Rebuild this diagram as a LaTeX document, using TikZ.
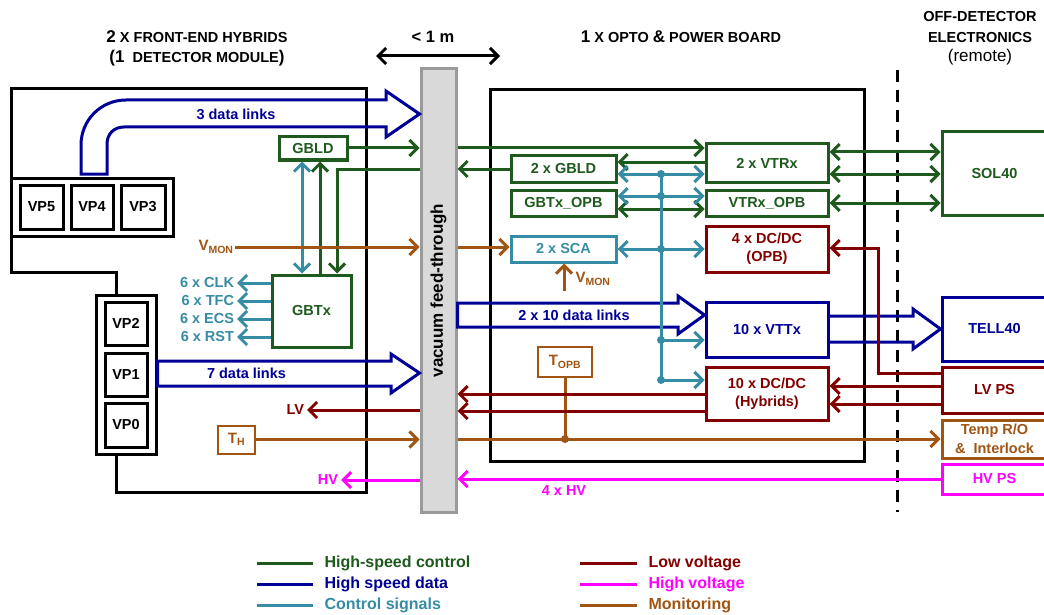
\documentclass[tikz,border=0pt]{standalone}
\usepackage{fontspec}
\setmainfont{Liberation Sans}
\usetikzlibrary{arrows.meta,calc}
\definecolor{cgreen}{HTML}{1E5A1E}
\definecolor{cblue}{HTML}{000096}
\definecolor{ccyan}{HTML}{378CA5}
\definecolor{cred}{HTML}{820000}
\definecolor{cmag}{HTML}{FF00FF}
\definecolor{cbrown}{HTML}{A05514}
\definecolor{ftfill}{HTML}{D9D9D9}
\definecolor{ftline}{HTML}{9A9A9A}
\newcommand{\myfs}[2][18]{\fontsize{#2}{#1}\selectfont}
\newcommand{\tempfs}{\fontsize{14.5}{19}\selectfont}
\begin{document}
\begin{tikzpicture}[x=1pt,y=-1pt,
  line width=3pt,
  >={Straight Barb[length=8pt,width=16pt]},
  box/.style={draw, rectangle, inner sep=0pt, align=center, font=\bfseries\myfs{14.5}},
  lbl/.style={inner sep=1.5pt, font=\bfseries\myfs{14.5}},
  hdr/.style={inner sep=0pt, font=\bfseries\myfs{14.5}},
  leg/.style={inner sep=0pt, anchor=west, font=\bfseries\myfs{16}},
  lhs/.style={draw=cgreen},
  lhd/.style={draw=cblue, line join=miter},
  lcs/.style={draw=ccyan},
  llv/.style={draw=cred},
  lhv/.style={draw=cmag},
  lmon/.style={draw=cbrown}
]
\useasboundingbox[fill=white] (0,0) rectangle (1044,615);
\clip (0,0) rectangle (1044,615);

% ---------- headers
\node[hdr] (h1) at (197,37) {{\myfs{17}2} X FRONT-END HYBRIDS};
\node[hdr] (h2) at (197,58) {{\myfs{17}(1}\ \ DETECTOR MODULE{\myfs{17})}};
\node[hdr] (h3) at (433,37) {\myfs{16.5}< 1 m};
\coordinate (m1) at (376,56);
\coordinate (m2) at (500,56);
\draw[<->] (m1) -- (m2);
\node[hdr] (h4) at (681,37) {{\myfs{17}1} X OPTO {\myfs{17}\&} POWER BOARD};
\node[hdr] (h5) at (980,17) {OFF-DETECTOR};
\node[hdr] (h6) at (980,38) {ELECTRONICS};
\node[hdr, font=\myfs{17}] (h7) at (980,57) {(remote)};

% ---------- dashed boundary
\coordinate (d1) at (897,70);
\coordinate (d2) at (897,512);
\draw[dash pattern=on 12pt off 8pt] (d1) -- (d2);

% ---------- detector module
\draw (116,454) -- (116,492) -- (366,492) -- (366,89) -- (11,89) -- (11,272) -- (116,272) -- (116,295);
\node[draw, minimum width=162pt, minimum height=58pt, inner sep=0pt] (vptop) at (92,207) {};
\node[draw, minimum width=60pt, minimum height=159pt, inner sep=0pt] (vpbot) at (126,374.5) {};
\node[box, minimum width=43pt, minimum height=44pt] (vp5) at (41.5,207) {VP5};
\node[box, minimum width=42pt, minimum height=44pt] (vp4) at (92,207) {VP4};
\node[box, minimum width=44pt, minimum height=44pt] (vp3) at (143,207) {VP3};
\node[box, minimum width=42pt, minimum height=43pt] (vp2) at (126,323.5) {VP2};
\node[box, minimum width=42pt, minimum height=43pt] (vp1) at (126,374.5) {VP1};
\node[box, minimum width=42pt, minimum height=44pt] (vp0) at (126,425) {VP0};

\node[box, cgreen, minimum width=68pt, minimum height=23pt] (gbld) at (313,148.5) {GBLD};
\node[box, cgreen, minimum width=79pt, minimum height=72pt] (gbtx) at (311.5,311) {GBTx};
\node[box, cbrown, minimum width=37pt, minimum height=28pt, font=\bfseries\myfs{15}, line width=2pt] (th) at (236.5,439.5) {T\textsubscript{H}};

% ---------- feed-through
\node[draw=ftline, fill=ftfill, minimum width=35pt, minimum height=443pt, inner sep=0pt,
  label={[rotate=90, font=\bfseries\myfs{17}]center:vacuum feed-through}] (ft) at (438.5,290.5) {};

% ---------- opto & power board
\node[draw, minimum width=374pt, minimum height=371pt, inner sep=0pt] (opb) at (677,275.5) {};
\node[box, cgreen, minimum width=105pt, minimum height=26pt] (gbld2) at (563.5,169) {2 x GBLD};
\node[box, cgreen, minimum width=105pt, minimum height=26pt] (gbtxopb) at (563.5,203) {GBTx\_OPB};
\node[box, ccyan, minimum width=105pt, minimum height=26pt] (sca) at (563.5,249) {2 x SCA};
\node[box, cgreen, minimum width=122pt, minimum height=38pt] (vtrx) at (767,163) {2 x VTRx};
\node[box, cgreen, minimum width=122pt, minimum height=26pt] (vtrxopb) at (767,203) {VTRx\_OPB};
\node[box, cred, minimum width=122pt, minimum height=46pt] (dcopb) at (767,249) {4 x DC/DC\\(OPB)};
\node[box, cblue, minimum width=122pt, minimum height=55pt] (vttx) at (767,329.5) {10 x VTTx};
\node[box, cred, minimum width=122pt, minimum height=53pt] (dchyb) at (767,393.5) {10 x DC/DC\\(Hybrids)};
\node[box, cbrown, minimum width=54pt, minimum height=30pt, font=\bfseries\myfs{15}, line width=2pt] (topb) at (565,362) {T\textsubscript{OPB}};

% ---------- off-detector
\node[box, cgreen, minimum width=105pt, minimum height=83pt] (sol40) at (994.5,173.5) {SOL40};
\node[box, cblue, minimum width=105pt, minimum height=64pt] (tell40) at (994.5,329) {TELL40};
\node[box, cred, minimum width=105pt, minimum height=46pt] (lvps) at (994.5,390) {LV PS};
\node[box, cbrown, minimum width=105pt, minimum height=38pt, font=\bfseries\tempfs] (temp) at (994.5,439) {Temp R/O\\\&\ \ Interlock};
\node[box, cmag, minimum width=105pt, minimum height=30pt] (hvps) at (994.5,479) {HV PS};

% ---------- high speed data (fat arrows)
\draw[lhd] (107,174) -- (81,174) -- (81,145) .. controls (81,120) and (101,100) .. (126,100)
  -- (386,100) -- (386,91) -- (ft.west |- 0,114) -- (386,137) -- (386,127) -- (124,127)
  .. controls (114,127) and (107,134) .. (107,144) -- cycle;
\node[lbl, cblue] (t3) at (236,114) {3 data links};
\draw[lhd] (vpbot.east |- 0,361) -- (391,361) -- (391,354) -- (ft.west |- 0,373) -- (391,393)
  -- (391,386) -- (vpbot.east |- 0,386) -- cycle;
\node[lbl, cblue] (t7) at (246.5,373) {7 data links};
\draw[lhd] (ft.east |- 0,303) -- (678,303) -- (678,296) -- (vttx.west |- 0,315) -- (678,334)
  -- (678,327) -- (ft.east |- 0,327) -- cycle;
\node[lbl, cblue] (t20) at (574,315) {2 x 10 data links};
\draw[lhd] (vttx.east |- 0,316) -- (913,316) -- (913,309) -- (tell40.west) -- (913,349)
  -- (913,342) -- (vttx.east |- 0,342);

% ---------- high-speed control
\draw[lhs,->] (gbld.east |- 0,148) -- (ft.west |- 0,148);
\draw[lhs,->] (ft.east |- 0,148) -- (vtrx.west |- 0,148);
\draw[lhs,->] (vtrx.west |- 0,162) -- (gbld2.east |- 0,162);
\draw[lhs,->] (gbld2.west |- 0,169) -- (ft.east |- 0,169);
\draw[lhs,->] (ft.west |- 0,169) -- (337,169) -- (gbtx.north -| 337,0);
\draw[lhs,->] (gbtx.north -| 320,0) -- (gbld.south -| 320,0);
\draw[lhs,<->] (gbtxopb.east |- 0,209) -- (vtrxopb.west |- 0,209);
\draw[lhs,<->] (vtrx.east |- 0,152) -- (sol40.west |- 0,152);
\draw[lhs,<->] (vtrx.east |- 0,174) -- (sol40.west |- 0,174);
\draw[lhs,<->] (vtrxopb.east |- 0,203) -- (sol40.west |- 0,203);

% ---------- control signals
\draw[lcs,<->] (gbld.south -| 302,0) -- (gbtx.north -| 302,0);
\coordinate (b1) at (661,174);
\coordinate (b2) at (661,196);
\coordinate (b3) at (661,249);
\coordinate (b4) at (661,340);
\coordinate (b5) at (661,380);
\draw[lcs] (b1) -- (b5);
\draw[lcs,<->] (gbld2.east |- b1) -- (vtrx.west |- b1);
\draw[lcs,<->] (gbtxopb.east |- b2) -- (vtrxopb.west |- b2);
\draw[lcs,<->] (sca.east |- b3) -- (dcopb.west |- b3);
\draw[lcs,->] (b4) -- (vttx.west |- b4);
\draw[lcs,->] (b5) -- (dchyb.west |- b5);
\foreach \b in {b1,b2,b3,b4,b5} \fill[ccyan] (\b) circle[radius=4pt];

\node[lbl, ccyan, anchor=east] (clk) at (237,283) {6 x CLK};
\node[lbl, ccyan, anchor=east] (tfc) at (237,301) {6 x TFC};
\node[lbl, ccyan, anchor=east] (ecs) at (237,319) {6 x ECS};
\node[lbl, ccyan, anchor=east] (rst) at (237,337) {6 x RST};
\draw[lcs,->] (gbtx.west |- clk.east) -- (clk.east);
\draw[lcs,->] (gbtx.west |- tfc.east) -- (tfc.east);
\draw[lcs,->] (gbtx.west |- ecs.east) -- (ecs.east);
\draw[lcs,->] (gbtx.west |- rst.east) -- (rst.east);

% ---------- monitoring
\node[lbl, cbrown, font=\bfseries\myfs{15}, anchor=east, inner sep=0pt] (vmon1) at (235,247) {V\textsubscript{MON}};
\draw[lmon,->] (vmon1.east |- 0,247) -- (ft.west |- 0,247);
\draw[lmon,->] (ft.east |- 0,247) -- (sca.west |- 0,247);
\coordinate (vm2) at (564,291);
\draw[lmon,->] (vm2) -- (sca.south -| vm2);
\node[lbl, cbrown, font=\bfseries\myfs{15}, anchor=west, inner sep=0pt] (vmon2) at (574,279) {V\textsubscript{MON}};
\draw[lmon,->] (th.east) -- (ft.west |- th.east);
\draw[lmon,->] (ft.east |- 0,439) -- (temp.west |- 0,439);
\draw[lmon] (topb.south) -- (topb.south |- 0,439);
\fill[cbrown] (topb.south |- 0,439) circle[radius=4pt];

% ---------- low voltage
\node[lbl, cred, anchor=east] (lvlab) at (307,410) {LV};
\draw[llv,->] (ft.west |- 0,410) -- (lvlab.east);
\draw[llv,->] (dchyb.west |- 0,394) -- (ft.east |- 0,394);
\draw[llv,->] (dchyb.west |- 0,411) -- (ft.east |- 0,411);
\draw[llv,->] (lvps.west |- 0,386) -- (dchyb.east |- 0,386);
\draw[llv,->] (lvps.west |- 0,404) -- (dchyb.east |- 0,404);
\draw[llv,->] (lvps.west |- 0,373) -- (878,373) -- (878,248) -- (dcopb.east |- 0,248);

% ---------- high voltage
\node[lbl, cmag, anchor=east] (hvlab) at (341,480) {HV};
\draw[lhv,->] (hvps.west) -- (ft.east |- hvps.west);
\draw[lhv,->] (ft.west |- 0,480) -- (hvlab.east);
\node[lbl, cmag] (hv4) at (564,491) {4 x HV};

% ---------- legend
\coordinate (la1) at (257,563); \coordinate (lb1) at (313,563);
\coordinate (la2) at (257,584); \coordinate (lb2) at (313,584);
\coordinate (la3) at (257,605); \coordinate (lb3) at (313,605);
\coordinate (ra1) at (580,563); \coordinate (rb1) at (637,563);
\coordinate (ra2) at (580,584); \coordinate (rb2) at (637,584);
\coordinate (ra3) at (580,605); \coordinate (rb3) at (637,605);
\draw[lhs] (la1) -- (lb1);
\draw[lhd] (la2) -- (lb2);
\draw[lcs] (la3) -- (lb3);
\draw[llv] (ra1) -- (rb1);
\draw[lhv] (ra2) -- (rb2);
\draw[lmon] (ra3) -- (rb3);
\node[leg, cgreen] (g1) at (323,563) {High-speed control};
\node[leg, cblue] (g2) at (323,584) {High speed data};
\node[leg, ccyan] (g3) at (323,605) {Control signals};
\node[leg, cred] (g4) at (647,563) {Low voltage};
\node[leg, cmag] (g5) at (647,584) {High voltage};
\node[leg, cbrown] (g6) at (647,605) {Monitoring};
\end{tikzpicture}
\end{document}
